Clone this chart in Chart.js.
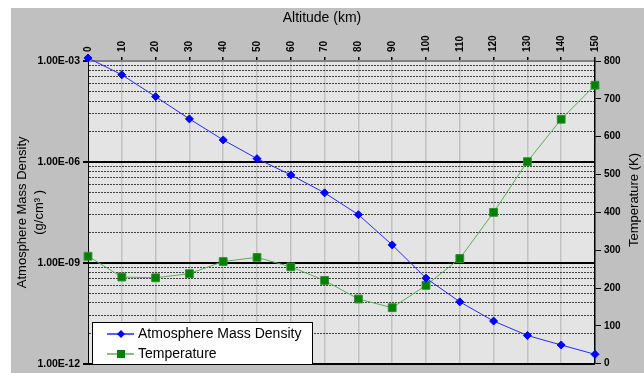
<!DOCTYPE html>
<html>
<head>
<meta charset="utf-8">
<script src="https://cdn.jsdelivr.net/npm/chart.js@4.4.0/dist/chart.umd.min.js"></script>
<style>
  html, body { margin: 0; padding: 0; background: #fff; }
</style>
</head>
<body>
<canvas id="myChart" width="644" height="373"></canvas>
<script>
// altitude in km, along the top axis
var altitude = [0, 10, 20, 30, 40, 50, 60, 70, 80, 90, 100, 110, 120, 130, 140, 150];
// mass density, g/cm3 (left log axis)
var density = [1.23e-3, 3.9e-4, 8.7e-5, 1.9e-5, 4.5e-6, 1.25e-6, 4.1e-7, 1.2e-7, 2.7e-8,
               3.4e-9, 3.5e-10, 6.9e-11, 1.85e-11, 6.9e-12, 3.6e-12, 1.9e-12];
// temperature, K (right axis)
var temperature = [284, 229, 227, 238, 270, 281, 256, 220, 171, 148, 207, 278, 400, 534, 646, 736];

// labelled density ticks
var densityMajor = [1e-3, 1e-6, 1e-9, 1e-12];
var densityTickLabels = ['1.00E-03', '1.00E-06', '1.00E-09', '1.00E-12'];

var FONT = '"Liberation Sans", Arial, sans-serif';
Chart.defaults.font.family = FONT;
Chart.defaults.color = '#000';

function majorIndex(v) {
  for (var i = 0; i < densityMajor.length; i++) {
    if (Math.abs(Math.log10(v) - Math.log10(densityMajor[i])) < 1e-6) return i;
  }
  return -1;
}
function isMajorCtx(c) {
  return c.tick && majorIndex(c.tick.value) >= 0;
}

// excel-style minor lines: k^3 steps inside each 1000x band
function densityGrid() {
  var out = [];
  for (var i = densityMajor.length - 1; i >= 0; i--) {
    out.push({ value: densityMajor[i] });
    if (i > 0) {
      for (var k = 2; k <= 9; k++) out.push({ value: densityMajor[i] * k * k * k });
    }
  }
  return out;
}

var background = {
  id: 'background',
  beforeDraw: function (chart) {
    var c = chart.ctx, a = chart.chartArea;
    c.save();
    c.fillStyle = '#c0c0c0';
    c.fillRect(11, 8, chart.width - 11, chart.height - 8);
    c.fillStyle = '#e4e4e4';
    c.fillRect(a.left, a.top, a.right - a.left, a.bottom - a.top);
    c.restore();
  }
};

var titles = {
  id: 'titles',
  afterDraw: function (chart) {
    var c = chart.ctx;
    c.save();
    c.fillStyle = '#000';
    c.textAlign = 'center';
    c.textBaseline = 'middle';
    c.font = '14px ' + FONT;
    c.fillText('Altitude (km)', 322, 18);
    c.translate(634, 200);
    c.rotate(-Math.PI / 2);
    c.font = '13px ' + FONT;
    c.fillText('Temperature (K)', 0, 0);
    c.restore();
  }
};

var boxLegend = {
  id: 'boxLegend',
  afterDraw: function (chart) {
    var c = chart.ctx;
    c.save();
    c.fillStyle = '#fff';
    c.fillRect(92, 322, 220, 42);
    c.strokeStyle = '#000';
    c.lineWidth = 1;
    c.strokeRect(92.5, 322.5, 220, 42);
    chart.data.datasets.forEach(function (ds, i) {
      var y = 334 + i * 20, x = 121;
      c.strokeStyle = ds.borderColor;
      c.lineWidth = 1.5;
      c.beginPath();
      c.moveTo(107, y);
      c.lineTo(134, y);
      c.stroke();
      c.fillStyle = ds.pointBackgroundColor;
      c.beginPath();
      if (ds.pointStyle === 'rectRot') {
        c.moveTo(x, y - 4); c.lineTo(x + 4, y); c.lineTo(x, y + 4); c.lineTo(x - 4, y);
        c.closePath();
      } else {
        c.rect(x - 4, y - 4, 8, 8);
      }
      c.fill();
      c.fillStyle = '#000';
      c.font = '14px ' + FONT;
      c.textAlign = 'left';
      c.textBaseline = 'middle';
      c.fillText(ds.label, 138, y);
    });
    c.restore();
  }
};

var ctx = document.getElementById('myChart');
new Chart(ctx, {
  type: 'line',
  data: {
    datasets: [
      {
        label: 'Atmosphere Mass Density',
        data: altitude.map(function (a, i) { return { x: a, y: density[i] }; }),
        yAxisID: 'y',
        borderColor: '#2a2aff',
        borderWidth: 1,
        pointStyle: 'rectRot',
        pointRadius: 4,
        pointBackgroundColor: '#0000ff',
        pointBorderColor: '#0000ff',
        pointBorderWidth: 1,
        clip: false
      },
      {
        label: 'Temperature',
        data: altitude.map(function (a, i) { return { x: a, y: temperature[i] }; }),
        yAxisID: 'y1',
        borderColor: '#5cad5c',
        borderWidth: 1,
        pointStyle: 'rect',
        pointRadius: 5.5,
        pointBackgroundColor: '#008000',
        pointBorderColor: '#2f8f2f',
        pointBorderWidth: 1,
        clip: false
      }
    ]
  },
  options: {
    responsive: false,
    animation: false,
    devicePixelRatio: 1,
    layout: { padding: { left: 11, top: 8, right: 0, bottom: 5 } },
    plugins: { legend: { display: false }, tooltip: { enabled: false } },
    scales: {
      x: {
        type: 'linear',
        position: 'top',
        min: 0,
        max: 150,
        afterFit: function (s) { s.height = 53; },
        ticks: { stepSize: 10, minRotation: 90, maxRotation: 90, autoSkip: false,
                 font: { size: 10, weight: 'bold' }, padding: 5, labelOffset: 12 },
        grid: { color: '#c2c2c2', lineWidth: 1.5, tickLength: 4, tickColor: '#000' },
        border: { color: '#808080', width: 2 }
      },
      y: {
        type: 'logarithmic',
        position: 'left',
        min: 1e-12,
        max: 1e-3,
        afterFit: function (s) { s.width = 77; },
        afterBuildTicks: function (s) { s.ticks = densityGrid(); },
        ticks: {
          autoSkip: false,
          font: { size: 10.5, weight: 'bold' },
          padding: 3,
          callback: function (v) {
            var i = majorIndex(v);
            return i < 0 ? '' : densityTickLabels[i];
          }
        },
        grid: {
          color: function (c) { return isMajorCtx(c) ? '#000' : '#404040'; },
          lineWidth: function (c) { return isMajorCtx(c) ? 2 : 1; },
          tickLength: 5,
          tickColor: function (c) { return isMajorCtx(c) ? '#000' : 'rgba(0,0,0,0)'; }
        },
        border: {
          color: '#000',
          width: 1,
          dash: function (c) { return (c.tick && !isMajorCtx(c)) ? [2, 1] : []; }
        },
        title: {
          display: true,
          text: ['Atmosphere Mass Density', '(g/cm\u00b3 )'],
          font: { size: 13, lineHeight: 1.3 },
          padding: { top: 3, bottom: 0 }
        }
      },
      y1: {
        type: 'linear',
        position: 'right',
        min: 0,
        max: 800,
        afterFit: function (s) { s.width = 49; },
        ticks: { stepSize: 100, font: { size: 10, weight: 'bold' }, padding: 3 },
        grid: { drawOnChartArea: false, tickLength: 6, tickColor: '#000' },
        border: { color: '#000', width: 1.5 }
      }
    }
  },
  plugins: [background, titles, boxLegend]
});
</script>
</body>
</html>
